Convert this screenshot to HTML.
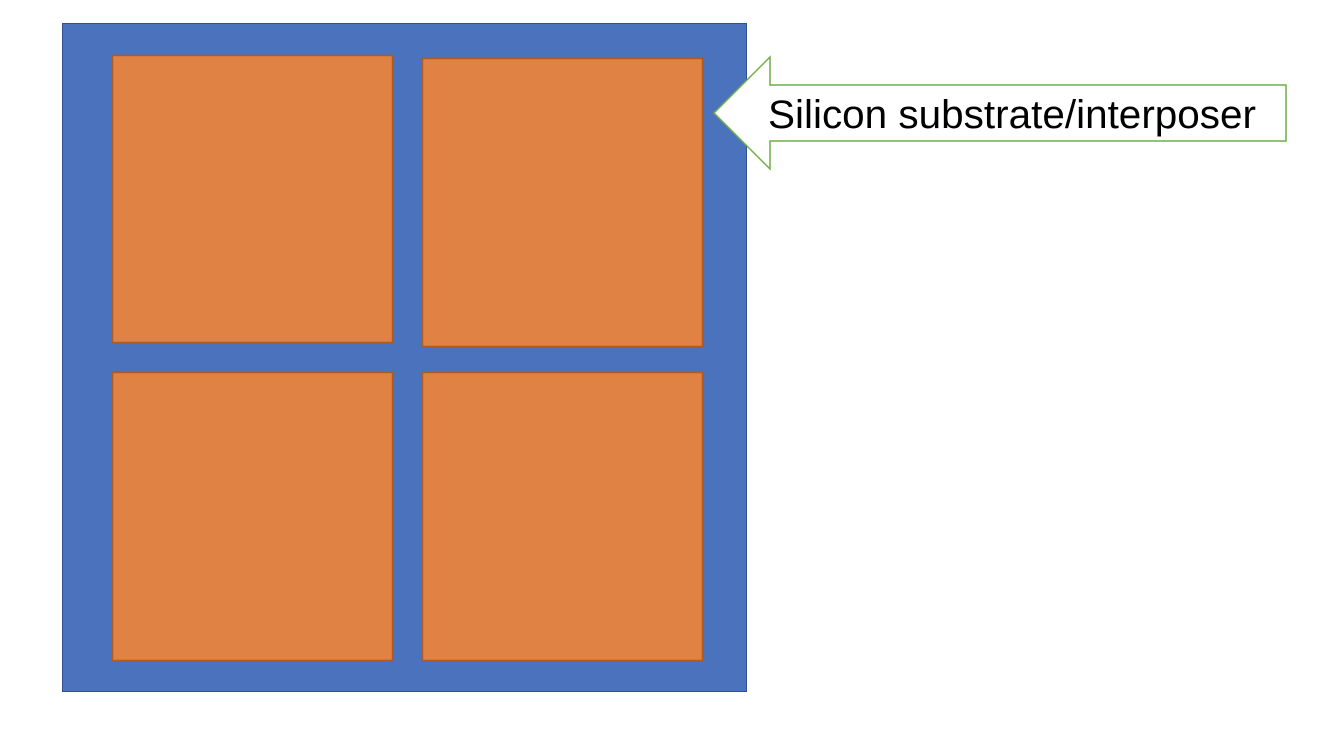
<!DOCTYPE html>
<html>
<head>
<meta charset="utf-8">
<style>
html,body{margin:0;padding:0;background:#fff;width:1324px;height:740px;overflow:hidden;}
svg{display:block;}
</style>
</head>
<body>
<svg width="1324" height="740" viewBox="0 0 1324 740">
  <rect x="62.5" y="23.5" width="684" height="668" fill="#4a72bd" stroke="#2f528f" stroke-width="1"/>
  <rect x="112.5" y="55.5" width="280" height="287" fill="#e08244" stroke="#ae5a21" stroke-width="1.5"/>
  <rect x="422.5" y="58.5" width="280" height="288" fill="#e08244" stroke="#ae5a21" stroke-width="1.5"/>
  <rect x="112.5" y="372.5" width="280" height="288" fill="#e08244" stroke="#ae5a21" stroke-width="1.5"/>
  <rect x="422.5" y="372.5" width="280" height="288" fill="#e08244" stroke="#ae5a21" stroke-width="1.5"/>
  <polygon points="714,113 770,57 770,85 1286,85 1286,141 770,141 770,169" fill="#fff" stroke="#70ad47" stroke-width="1.5"/>
  <text x="768" y="128" font-family="'Liberation Sans', sans-serif" font-size="40" fill="#000" textLength="488" lengthAdjust="spacingAndGlyphs">Silicon substrate/interposer</text>
</svg>
</body>
</html>
